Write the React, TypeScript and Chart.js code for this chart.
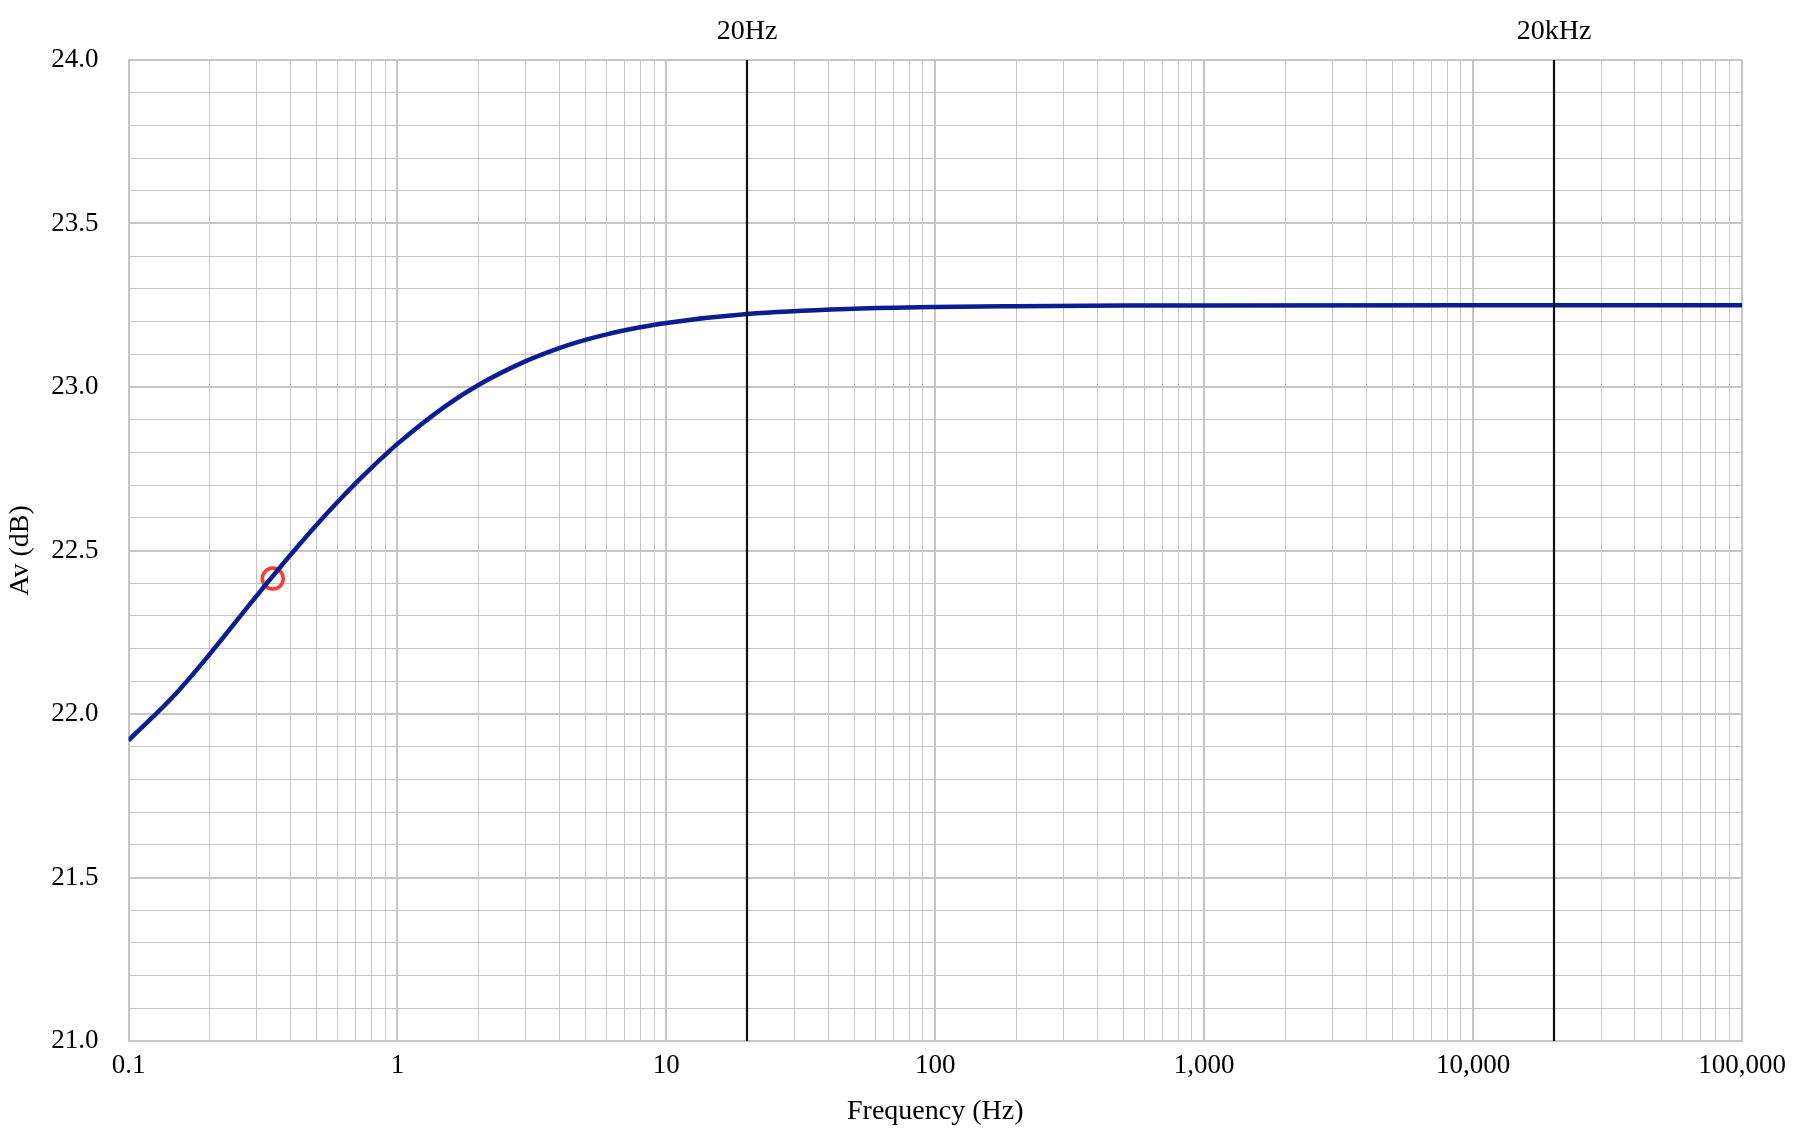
import { useEffect, useRef } from 'react';
import { Chart, registerables } from 'chart.js';

Chart.register(...registerables);

// Frequency response (Hz, dB)
const FREQ_HZ = [0.1, 0.15, 0.2, 0.3, 0.4, 0.5, 0.6, 0.7, 0.8, 0.9, 1, 1.5, 2, 3, 4, 5, 6, 8, 10, 20, 50, 100, 200, 500, 1000, 10000, 100000];
const GAIN_DB = [21.919, 22.062, 22.182, 22.362, 22.486, 22.578, 22.649, 22.706, 22.753, 22.792, 22.826, 22.94, 23.006, 23.079, 23.119, 23.144, 23.161, 23.1825, 23.196, 23.223, 23.239, 23.2445, 23.247, 23.249, 23.2495, 23.25, 23.25];

// Highlighted point
const MARKER_FREQ = [0.344];
const MARKER_GAIN = [22.414];

// Reference vertical lines
const REF_LINE_FREQ = [20, 20000];
const REF_LINE_LABELS = ['20Hz', '20kHz'];

// Axes
const X_DECADES = [0.1, 1, 10, 100, 1000, 10000, 100000];
const X_TICK_LABELS = ['0.1', '1', '10', '100', '1,000', '10,000', '100,000'];
const Y_MIN = 21;
const Y_MAX = 24;
const Y_GRID_STEP = 0.1;
const Y_LABEL_STEP = 0.5;

const FONT_FAMILY = '"Liberation Serif", "Times New Roman", serif';
const GRID_COLOR = '#C6C6C6';

const decadeIndex = (v: number) =>
  X_DECADES.findIndex((d) => Math.abs(v - d) / d < 1e-6);

const isYMajor = (v: number) =>
  Math.abs(v / Y_LABEL_STEP - Math.round(v / Y_LABEL_STEP)) < 1e-6;

const refLinesPlugin = {
  id: 'refLines',
  afterDatasetsDraw(chart: any) {
    const { ctx, chartArea, scales } = chart;
    const x = scales.x;
    ctx.save();
    REF_LINE_FREQ.forEach((f, i) => {
      const px = Math.round(x.getPixelForValue(f));
      ctx.beginPath();
      ctx.strokeStyle = '#111111';
      ctx.lineWidth = 2.2;
      ctx.moveTo(px, chartArea.top);
      ctx.lineTo(px, chartArea.bottom);
      ctx.stroke();
      ctx.fillStyle = '#000000';
      ctx.font = `28px ${FONT_FAMILY}`;
      ctx.textAlign = 'center';
      ctx.textBaseline = 'middle';
      ctx.fillText(REF_LINE_LABELS[i], px, chartArea.top - 28);
    });
    ctx.restore();
  },
};

export default function App() {
  const canvasRef = useRef<HTMLCanvasElement | null>(null);

  useEffect(() => {
    if (!canvasRef.current) return;
    const chart = new Chart(canvasRef.current, {
      type: 'line',
      data: {
        datasets: [
          {
            label: 'Av',
            data: FREQ_HZ.map((f, i) => ({ x: f, y: GAIN_DB[i] })),
            borderColor: '#0A1E91',
            borderWidth: 4.5,
            pointRadius: 0,
            cubicInterpolationMode: 'monotone',
            fill: false,
            order: 0,
          },
          {
            label: 'marker',
            type: 'scatter',
            data: MARKER_FREQ.map((f, i) => ({ x: f, y: MARKER_GAIN[i] })),
            pointRadius: 10.5,
            pointBorderWidth: 3.5,
            pointBorderColor: '#FF3B30',
            pointBackgroundColor: 'rgba(255,255,255,0)',
            showLine: false,
            order: 1,
          },
        ],
      },
      options: {
        responsive: false,
        animation: false,
        layout: { padding: { left: 0, right: 58, top: 60, bottom: 0 } },
        plugins: {
          legend: { display: false },
          tooltip: { enabled: false },
        },
        scales: {
          x: {
            type: 'logarithmic',
            min: X_DECADES[0],
            max: X_DECADES[X_DECADES.length - 1],
            afterBuildTicks: (scale: any) => {
              const vals: number[] = [];
              for (let i = 0; i < X_DECADES.length - 1; i++) {
                for (let m = 1; m <= 9; m++) vals.push(X_DECADES[i] * m);
              }
              vals.push(X_DECADES[X_DECADES.length - 1]);
              scale.ticks = vals.map((v) => ({ value: v }));
            },
            afterFit: (scale: any) => {
              scale.height = 99;
            },
            ticks: {
              autoSkip: false,
              maxRotation: 0,
              padding: 9,
              color: '#000000',
              font: { family: FONT_FAMILY, size: 27 },
              callback: (value: any) => {
                const idx = decadeIndex(Number(value));
                return idx >= 0 ? X_TICK_LABELS[idx] : '';
              },
            },
            grid: {
              color: GRID_COLOR,
              drawTicks: false,
              lineWidth: (ctx: any) =>
                ctx.tick && decadeIndex(ctx.tick.value) >= 0 ? 2 : 1,
            },
            border: { display: true, color: GRID_COLOR, width: 2 },
            title: {
              display: true,
              text: 'Frequency (Hz)',
              color: '#000000',
              font: { family: FONT_FAMILY, size: 28 },
              padding: { top: 0, bottom: 12 },
            },
          },
          y: {
            type: 'linear',
            min: Y_MIN,
            max: Y_MAX,
            afterFit: (scale: any) => {
              scale.width = 128.5;
            },
            ticks: {
              stepSize: Y_GRID_STEP,
              autoSkip: false,
              padding: 30,
              color: '#000000',
              font: { family: FONT_FAMILY, size: 27 },
              callback: (value: any) =>
                isYMajor(Number(value)) ? Number(value).toFixed(1) : '',
            },
            grid: {
              color: GRID_COLOR,
              drawTicks: false,
              lineWidth: (ctx: any) =>
                ctx.tick && isYMajor(ctx.tick.value) ? 2 : 1,
            },
            border: { display: true, color: GRID_COLOR, width: 2 },
            title: {
              display: true,
              text: 'Av (dB)',
              color: '#000000',
              font: { family: FONT_FAMILY, size: 28 },
              padding: { top: 4, bottom: 0 },
            },
          },
        },
      },
      plugins: [refLinesPlugin],
    } as any);
    return () => chart.destroy();
  }, []);

  return (
    <div style={{ position: 'fixed', left: 0, top: 0, width: 1800, height: 1140, background: '#ffffff' }}>
      <canvas ref={canvasRef} width={1800} height={1140} style={{ display: 'block' }} />
    </div>
  );
}
